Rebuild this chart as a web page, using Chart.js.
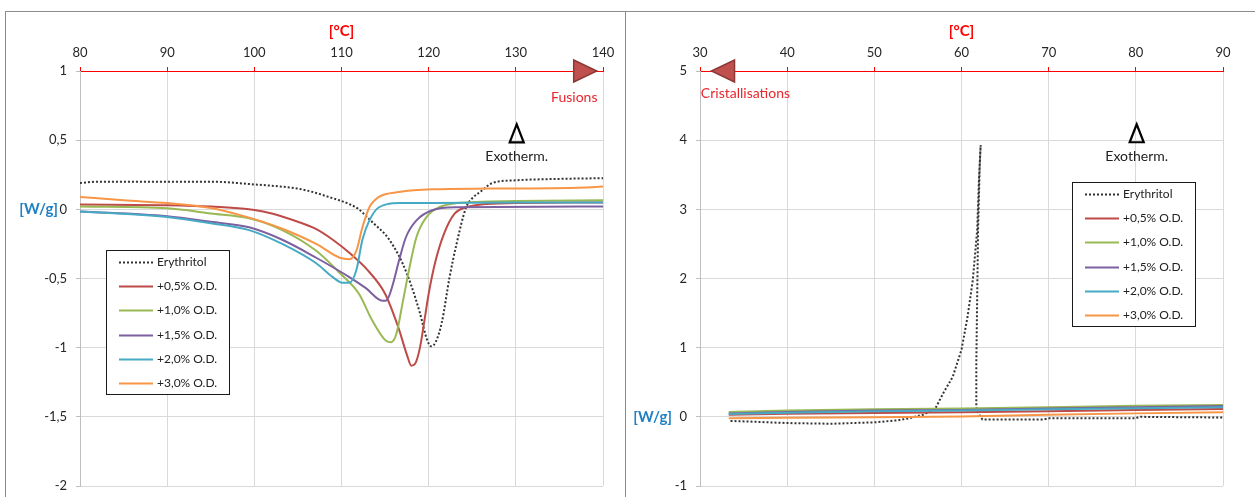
<!DOCTYPE html>
<html>
<head>
<meta charset="utf-8">
<script src="https://cdn.jsdelivr.net/npm/chart.js@4.4.0/dist/chart.umd.min.js"></script>
<style>
  body { margin: 0; background: #fff; width: 1255px; height: 497px; overflow: hidden; position: relative; }
  .frame { position: absolute; top: 11px; height: 490px; border-top: 1px solid #8c8c8c; }
  #frameL { left: 5px; width: 619px; border-left: 1px solid #8c8c8c; border-right: 1px solid #8c8c8c; }
  #frameR { left: 625px; width: 640px; }
  canvas { position: absolute; top: 12px; }
  #fusion { left: 6px; }
  #crist { left: 626px; }
</style>
</head>
<body>
<div class="frame" id="frameL"></div>
<div class="frame" id="frameR"></div>
<canvas id="fusion" width="617" height="485"></canvas>
<canvas id="crist" width="629" height="485"></canvas>
<script>
const seriesLabels = ["Erythritol", "+0,5% O.D.", "+1,0% O.D.", "+1,5% O.D.", "+2,0% O.D.", "+3,0% O.D."];

// melting runs (left chart) - temperature [°C] / heat flow [W/g]
const fusEryT = [80, 82, 90, 95, 100, 103, 105, 107, 108.5, 110, 111, 112, 113, 114, 115, 116, 117, 118, 119, 119.8, 120.3, 120.8, 121.5, 122.4, 123.2, 124.3, 125, 126, 127.3, 130, 135, 140];
const fusEryW = [0.19, 0.2, 0.2, 0.2, 0.18, 0.165, 0.15, 0.12, 0.09, 0.06, 0.035, 0.0, -0.06, -0.12, -0.18, -0.27, -0.39, -0.55, -0.75, -0.94, -0.99, -0.96, -0.82, -0.49, -0.25, 0.015, 0.08, 0.13, 0.19, 0.21, 0.22, 0.225];
const fusRedT = [80, 90, 95, 100, 102, 105, 107, 109, 111, 113, 115, 116.5, 117.6, 118, 118.5, 119, 119.5, 120, 120.8, 121.8, 123, 124.3, 126, 130, 140];
const fusRedW = [0.035, 0.03, 0.02, -0.005, -0.03, -0.09, -0.14, -0.22, -0.32, -0.44, -0.61, -0.85, -1.07, -1.13, -1.11, -1.0, -0.81, -0.61, -0.37, -0.17, -0.03, 0.015, 0.035, 0.045, 0.05];
const fusGreenT = [80, 90, 95, 99.4, 103.2, 107.1, 109.8, 112, 113.5, 115.1, 115.7, 116.3, 117, 117.8, 118.6, 119.7, 121.2, 123.2, 130, 140];
const fusGreenW = [0.02, 0.007, -0.03, -0.065, -0.15, -0.3, -0.46, -0.61, -0.8, -0.95, -0.96, -0.9, -0.68, -0.42, -0.2, -0.06, 0.015, 0.045, 0.06, 0.065];
const fusPurpleT = [80, 90, 95, 99.4, 103.2, 107.1, 110.9, 112.8, 114.7, 115.1, 115.5, 115.9, 116.6, 117.4, 118.6, 120.4, 123.2, 140];
const fusPurpleW = [-0.015, -0.05, -0.09, -0.13, -0.22, -0.35, -0.49, -0.57, -0.66, -0.66, -0.62, -0.54, -0.37, -0.2, -0.08, -0.007, 0.015, 0.02];
const fusTealT = [80, 90, 95, 99.4, 103.2, 107.1, 109, 110.1, 110.9, 111.7, 112.4, 113.2, 114.3, 116.6, 120.4, 130, 140];
const fusTealW = [-0.015, -0.055, -0.1, -0.15, -0.25, -0.39, -0.49, -0.53, -0.53, -0.44, -0.22, -0.08, 0.015, 0.045, 0.045, 0.05, 0.05];
const fusOrangeT = [80, 85, 90, 95, 99.4, 103.2, 107.1, 109.8, 110.9, 111.7, 112.4, 113.2, 114.3, 116.6, 120.4, 127, 138.8, 140];
const fusOrangeW = [0.09, 0.065, 0.045, 0.01, -0.06, -0.14, -0.25, -0.35, -0.36, -0.3, -0.13, 0.015, 0.09, 0.125, 0.145, 0.15, 0.16, 0.165];

// crystallisation runs (right chart)
const crisEryT = [33.5, 36, 40, 45, 50, 52.7, 54, 55.6, 57, 57.9, 59, 60, 60.7, 61.3, 61.8, 62, 62.2, 62.1, 61.9, 61.8, 61.7, 61.7, 61.9, 62.4, 69.3, 70.1, 80, 80.4, 90];
const crisEryW = [-0.06, -0.07, -0.09, -0.1, -0.08, -0.05, -0.02, 0.03, 0.12, 0.34, 0.58, 0.97, 1.45, 1.98, 2.7, 3.42, 3.93, 3.67, 2.7, 1.73, 0.78, 0.15, 0.06, -0.04, -0.04, -0.02, -0.02, 0.0, -0.01];
const crisT = [33.3, 40, 50, 60, 70, 80, 90];
const crisRedW = [0.03, 0.045, 0.055, 0.065, 0.08, 0.1, 0.115];
const crisGreenW = [0.07, 0.09, 0.11, 0.12, 0.14, 0.16, 0.17];
const crisPurpleW = [0.05, 0.07, 0.09, 0.1, 0.12, 0.14, 0.155];
const crisTealW = [0.04, 0.06, 0.08, 0.09, 0.11, 0.125, 0.14];
const crisOrangeW = [-0.02, -0.015, -0.005, 0.005, 0.03, 0.05, 0.065];

const colors = ["#333333", "#be4b48", "#98b954", "#7d60a0", "#46aac5", "#f79646"];
const FONT = "Lato";

const pts = (xs, ys) => xs.map((x, i) => ({ x: x, y: ys[i] }));

function makeSets(series, smooth) {
  return series.map((s, i) => ({
    label: seriesLabels[i],
    data: pts(s[0], s[1]),
    borderColor: colors[i],
    borderWidth: 2,
    borderDash: i === 0 ? [2, 2] : [],
    pointRadius: 0,
    cubicInterpolationMode: smooth ? "monotone" : "default",
    tension: smooth ? 0.4 : 0,
    order: series.length - i,
    fill: false,
  }));
}

// unit label, direction arrow and the exotherm marker
const decorPlugin = {
  id: "decor",
  afterDraw(chart, args, o) {
    const { ctx, chartArea } = chart;
    const x = chart.scales.x, y = chart.scales.y;
    ctx.save();
    ctx.font = "bold 15px " + FONT;
    ctx.fillStyle = "#1f81c4";
    ctx.textAlign = "right";
    ctx.textBaseline = "middle";
    ctx.fillText("[W/g]", chartArea.left - o.unitGap, y.getPixelForValue(0));

    const ax = x.getPixelForValue(o.arrow.x), ay = y.getPixelForValue(o.arrow.y), d = o.arrow.dir;
    ctx.beginPath();
    ctx.moveTo(ax + d * 12, ay);
    ctx.lineTo(ax - d * 11, ay - 11);
    ctx.lineTo(ax - d * 11, ay + 11);
    ctx.closePath();
    ctx.fillStyle = "#c0504d";
    ctx.fill();
    ctx.strokeStyle = "#8c3836";
    ctx.lineWidth = 1.5;
    ctx.stroke();

    ctx.font = "14px " + FONT;
    ctx.fillStyle = "#e8262e";
    ctx.textAlign = o.note.align;
    ctx.fillText(o.note.text, x.getPixelForValue(o.note.x), y.getPixelForValue(o.note.y));

    const ex = x.getPixelForValue(o.exo.x), ey = y.getPixelForValue(o.exo.y);
    ctx.beginPath();
    ctx.moveTo(ex, ey - 18);
    ctx.lineTo(ex - 7, ey);
    ctx.lineTo(ex + 7, ey);
    ctx.closePath();
    ctx.strokeStyle = "#000";
    ctx.lineWidth = 2.2;
    ctx.stroke();
    ctx.font = "14px " + FONT;
    ctx.fillStyle = "#222";
    ctx.textAlign = "center";
    ctx.fillText("Exotherm.", ex, ey + 14);
    ctx.restore();
  },
};

const legendBoxPlugin = {
  id: "legendBox",
  afterDraw(chart, args, o) {
    const { ctx } = chart;
    ctx.save();
    ctx.fillStyle = "#fff";
    ctx.fillRect(o.left, o.top, o.width, o.height);
    ctx.strokeStyle = "#1a1a1a";
    ctx.lineWidth = 1;
    ctx.strokeRect(o.left + 0.5, o.top + 0.5, o.width, o.height);
    chart.data.datasets.forEach((ds, i) => {
      const ly = Math.round(o.top + 12 + i * 24.2) + 0.5;
      ctx.beginPath();
      ctx.setLineDash(ds.borderDash);
      ctx.strokeStyle = ds.borderColor;
      ctx.lineWidth = 2;
      ctx.moveTo(o.left + 13, ly);
      ctx.lineTo(o.left + 47, ly);
      ctx.stroke();
      ctx.setLineDash([]);
      ctx.fillStyle = "#222";
      ctx.font = "12px " + FONT;
      ctx.textAlign = "left";
      ctx.textBaseline = "middle";
      ctx.fillText(ds.label, o.left + 51, ly);
    });
    ctx.restore();
  },
};

function makeChart(id, datasets, xr, yr, padRight, decor, legendBox) {
  return new Chart(document.getElementById(id), {
    type: "line",
    data: { datasets: datasets },
    options: {
      responsive: false,
      animation: false,
      layout: { padding: { left: 0, top: 0, right: padRight, bottom: 11 } },
      plugins: {
        legend: { display: false },
        tooltip: { enabled: false },
        decor: decor,
        legendBox: legendBox,
      },
      scales: {
        x: {
          type: "linear",
          position: "top",
          min: xr[0], max: xr[1],
          ticks: { stepSize: xr[2], color: "#262626", font: { family: FONT, size: 13 }, padding: 6, maxRotation: 0 },
          grid: { color: "#d9d9d9", tickColor: "#ff0000", tickLength: 4 },
          border: { color: "#ff0000", width: 1 },
          title: { display: true, text: "[°C]", color: "#ff0000", font: { family: FONT, size: 15, weight: "bold" }, padding: { top: 10, bottom: 0 } },
          afterFit: (s) => { s.height = 59; s.paddingLeft = 0; s.paddingRight = 0; },
        },
        y: {
          min: yr[0], max: yr[1],
          ticks: {
            stepSize: yr[2],
            color: "#262626",
            font: { family: FONT, size: 13 },
            padding: 9,
            callback: (v) => String(v).replace(".", ","),
          },
          grid: {
            color: (c) => (c.tick && c.tick.value === yr[1] ? "rgba(0,0,0,0)" : "#d9d9d9"),
            tickColor: "#bfbfbf",
            tickLength: 4,
          },
          border: { color: "#bfbfbf" },
          afterFit: (s) => { s.width = 74; s.paddingTop = 0; s.paddingBottom = 0; },
        },
      },
    },
    plugins: [decorPlugin, legendBoxPlugin],
  });
}

makeChart(
  "fusion",
  makeSets([
    [fusEryT, fusEryW], [fusRedT, fusRedW], [fusGreenT, fusGreenW],
    [fusPurpleT, fusPurpleW], [fusTealT, fusTealW], [fusOrangeT, fusOrangeW],
  ], true),
  [80, 140, 10], [-2, 1, 0.5], 20,
  {
    unitGap: 22,
    arrow: { x: 137.9, y: 1, dir: 1 },
    note: { text: "Fusions", x: 136.7, y: 0.81, align: "center" },
    exo: { x: 130.1, y: 0.484 },
  },
  { left: 100, top: 238, width: 123, height: 144 }
);

makeChart(
  "crist",
  makeSets([
    [crisEryT, crisEryW], [crisT, crisRedW], [crisT, crisGreenW],
    [crisT, crisPurpleW], [crisT, crisTealW], [crisT, crisOrangeW],
  ], false),
  [30, 90, 10], [-1, 5, 1], 32,
  {
    unitGap: 28,
    arrow: { x: 32.7, y: 5, dir: -1 },
    note: { text: "Cristallisations", x: 30.1, y: 4.68, align: "left" },
    exo: { x: 80.1, y: 3.97 },
  },
  { left: 446, top: 170, width: 123, height: 144 }
);
</script>
</body>
</html>
